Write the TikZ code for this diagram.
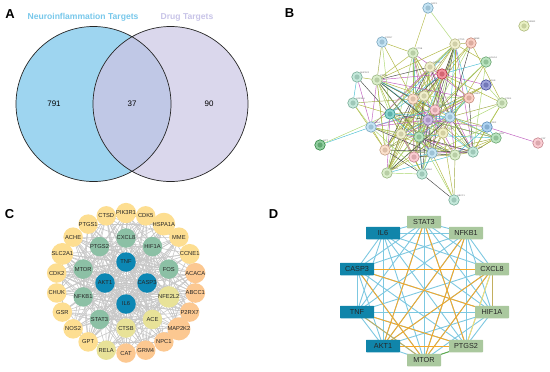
\documentclass[tikz,border=0pt]{standalone}
\usepackage{fontspec}
\setmainfont{Liberation Sans}
\usetikzlibrary{calc}
\pgfdeclarelayer{bg}\pgfdeclarelayer{edges}
\pgfsetlayers{bg,edges,main}
\definecolor{vennL}{RGB}{158,213,240}
\definecolor{vennR}{RGB}{218,215,236}
\definecolor{vennI}{RGB}{192,200,230}
\definecolor{titleL}{RGB}{120,200,235}
\definecolor{titleR}{RGB}{200,196,232}
\definecolor{cy}{RGB}{253,222,145}
\definecolor{co}{RGB}{252,200,145}
\definecolor{ck}{RGB}{232,226,152}
\definecolor{cg}{RGB}{140,192,165}
\definecolor{cb}{RGB}{12,135,180}
\definecolor{cedgecol}{RGB}{200,200,200}
\definecolor{dg}{RGB}{170,200,158}
\definecolor{db}{RGB}{16,133,170}
\definecolor{dblue}{RGB}{125,200,225}
\definecolor{dorange}{RGB}{245,168,40}
\definecolor{dyellow}{RGB}{250,222,110}
\definecolor{dkhaki}{RGB}{195,175,95}
\definecolor{dgreen}{RGB}{100,170,60}
\definecolor{bc1}{RGB}{175,182,60}
\definecolor{bc2}{RGB}{70,70,70}
\definecolor{bc3}{RGB}{190,90,190}
\definecolor{bc4}{RGB}{70,190,210}
\definecolor{bc5}{RGB}{170,215,110}
\definecolor{bc6}{RGB}{160,170,70}
\definecolor{blb}{RGB}{150,205,235}
\definecolor{byg}{RGB}{215,230,150}
\definecolor{blg}{RGB}{190,225,160}
\definecolor{bly}{RGB}{228,226,165}
\definecolor{bsa}{RGB}{245,170,150}
\definecolor{bgr}{RGB}{130,205,140}
\definecolor{bred}{RGB}{232,60,80}
\definecolor{bind}{RGB}{80,90,190}
\definecolor{bmi}{RGB}{150,215,190}
\definecolor{bpe}{RGB}{247,200,165}
\definecolor{bpk}{RGB}{245,165,175}
\definecolor{bte}{RGB}{50,180,170}
\definecolor{bpu}{RGB}{170,140,210}
\definecolor{bbl}{RGB}{110,175,230}
\definecolor{bdg}{RGB}{55,165,80}
\tikzset{
  plabel/.style={font=\fontsize{13}{13}\selectfont\bfseries, inner sep=0pt},
  vnum/.style={font=\fontsize{8}{9}\selectfont, inner sep=0pt},
  vtitle/.style={font=\fontsize{8.6}{9}\selectfont\bfseries, inner sep=0pt},
  cnode/.style={circle, minimum size=19.5bp, inner sep=0pt, text=black!85,
    font=\fontsize{5.8}{6}\selectfont},
  cedge/.style={draw=cedgecol, line width=0.6pt},
  bnode/.style={circle, minimum size=10.5bp, inner sep=0pt, line width=0.6pt},
  blab/.style={font=\fontsize{2.2}{2.4}\selectfont, text=black!60, inner sep=0.3pt, anchor=south west},
  bedge/.style={line width=0.45pt},
  dbox/.style={rectangle, minimum width=34bp, minimum height=12.5bp, inner sep=0pt,
    rounded corners=0.6pt, text=black!85, font=\fontsize{7.3}{8}\selectfont},
  dedge/.style={line width=0.9pt},
}
\begin{document}
\begin{tikzpicture}[x=1bp,y=-1bp]
\begin{pgfonlayer}{bg}
\fill[white] (0,0) rectangle (550,371);
\end{pgfonlayer}
\useasboundingbox (0,0) rectangle (550,371);

% ---------------- Panel A : Venn ----------------
\node[plabel] (labA) at (10,14) {A};
\coordinate (vL) at (93.5,104);
\coordinate (vR) at (170.5,104);
\fill[vennL] (vL) circle[radius=77.5bp];
\fill[vennR] (vR) circle[radius=77.5bp];
\begin{scope}
  \clip (vL) circle[radius=77.5bp];
  \fill[vennI] (vR) circle[radius=77.5bp];
\end{scope}
\draw[line width=0.7pt, black!85] (vL) circle[radius=77.5bp] (vR) circle[radius=77.5bp];
\node[vtitle, text=titleL] (tL) at (83,17) {Neuroinflammation Targets};
\node[vtitle, text=titleR] (tR) at (187,17) {Drug Targets};
\node[vnum] (n791) at (54,104) {791};
\node[vnum] (n37) at (132,104) {37};
\node[vnum] (n90) at (209,104) {90};

% ---------------- Panel B : STRING network ----------------
\node[plabel] (labB) at (289.5,13) {B};
\foreach \i/\x/\y/\col/\lab in {
 1/428/8/blb/NPC1, 2/524/26/byg/CHRM2, 3/382/42/blb/P2RX7, 4/413/53/blg/CTSB,
 5/455/44/bly/CTSD, 6/471/43/bsa/MME, 7/486/62/bgr/ACACA, 8/430/67/bly/NFE2L2,
 9/442/74/bred/PTGS2, 10/486/85/bind/ACHE, 11/357/77/bmi/MAP2K2, 12/377/80/blg/PTGS1,
 13/353/103/bmi/HSPA1A, 14/413/99/bpe/HIF1A, 15/424/96/bly/FOS, 16/469/98/bsa/CCNE1,
 17/502/103/blg/CDK5, 18/435/110/bpk/CASP3, 19/390/114/bte/STAT3, 20/450/117/blb/IL6,
 21/428/120/bpu/AKT1, 22/371/127/blb/RELA, 23/487/127/bbl/CDK2, 24/401/134/bly/TNF,
 25/419/137/bgr/MTOR, 26/443/133/ck/CXCL8, 27/496/138/bgr/GSR, 28/538/143/bpk/CAT,
 29/320/145/bdg/GPT, 30/385/150/bpe/NOS2, 31/432/153/blb/NFKB1, 32/455/155/blg/ACE,
 33/473/152/bmi/CHUK, 34/414/157/bpk/SLC2A1, 35/387/173/blg/PIK3R1, 36/422/174/bmi/GRM4,
 37/454/200/bmi/ABCC1}{
  \node[bnode, draw=\col!80!black, fill=\col!55!white] (b\i) at (\x,\y) {};
  \fill[\col!75!black, opacity=0.45] (b\i.center) circle[radius=2.6bp];
  \node[blab] (bl\i) at ($(b\i.north east)+(-1,1)$) {\lab};
}
\pgfmathsetseed{11}
\begin{pgfonlayer}{edges}
\foreach \i [count=\a] in {4,5,8,9,12,14,15,16,18,19,20,21,22,24,25,26,27,30,31,32,33,34,35,36}{
  \foreach \j [count=\b] in {4,5,8,9,12,14,15,16,18,19,20,21,22,24,25,26,27,30,31,32,33,34,35,36}{
    \ifnum\a<\b
      \pgfmathsetmacro\r{rnd}
      \ifdim\r pt<0.55pt
        \pgfmathrandominteger{\cc}{1}{6}
        \draw[bedge, draw=bc\cc] (b\i) -- (b\j);
      \fi
    \fi
  }
}
\foreach \i/\j/\cc in {1/4/1,1/5/5,3/4/1,3/12/6,3/14/1,3/19/5,11/12/1,11/13/4,11/19/2,11/22/3,
  13/19/1,13/22/5,13/14/6,13/30/1,29/22/4,29/19/5,28/23/3,37/31/1,37/32/6,37/26/1,37/25/5,37/36/2,
  7/5/1,7/9/4,7/21/6,7/18/5,7/31/1,7/33/5,10/9/3,10/21/1,10/18/6,10/17/5,10/24/1,
  17/6/1,17/23/5,17/20/6,17/9/1,17/26/5,17/33/1,6/5/6,6/9/1,6/20/2,6/18/5,6/24/1,
  23/27/4,23/33/1,23/21/3,23/20/6,23/32/4,23/31/5,27/20/1,27/33/6,27/21/5,12/21/2,12/25/6,12/30/1}{
  \draw[bedge, draw=bc\cc] (b\i) -- (b\j);
}
\end{pgfonlayer}

% ---------------- Panel C : circular network ----------------
\node[plabel] (labC) at (9.5,214) {C};
\coordinate (cC) at (126,283);
\foreach \n/\col [count=\i] in {TNF/cb, CASP3/cb, IL6/cb, AKT1/cb}{
  \node[cnode, fill=\col] (c\i) at ($(cC)+({90-(\i-1)*90}:21bp)$) {\n};
}
\foreach \n/\col [count=\i from 5] in {CXCL8/cg, HIF1A/cg, FOS/cg, NFE2L2/ck, ACE/ck,
  CTSB/ck, STAT3/cg, NFKB1/cg, MTOR/cg, PTGS2/cg}{
  \node[cnode, fill=\col] (c\i) at ($(cC)+({90-(\i-5)*36}:45bp)$) {\n};
}
\foreach \n/\col [count=\i from 15] in {PIK3R1/cy, CDK5/cy, HSPA1A/cy, MME/cy, CCNE1/cy,
  ACACA/co, ABCC1/co, P2RX7/co, MAP2K2/co, NPC1/co, GRM4/co, CAT/co, RELA/ck, GPT/cy,
  NOS2/cy, GSR/cy, CHUK/cy, CDK2/cy, SLC2A1/cy, ACHE/cy, PTGS1/cy, CTSD/cy}{
  \node[cnode, fill=\col] (c\i) at ($(cC)+({90-(\i-15)*360/22}:70bp)$) {\n};
}
\pgfmathsetseed{5}
\begin{pgfonlayer}{edges}
\foreach \i in {1,...,35}{
  \pgfmathtruncatemacro\js{\i+1}
  \foreach \j in {\js,...,36}{
    \pgfmathsetmacro\p{\i<5 ? 0.92 : (\i<15 ? 0.55 : 0.16)}
    \pgfmathsetmacro\r{rnd}
    \ifdim\r pt<\p pt
      \draw[cedge] (c\i.center) -- (c\j.center);
    \fi
  }
}
\end{pgfonlayer}

% ---------------- Panel D : core network ----------------
\node[plabel] (labD) at (273.5,214) {D};
\foreach \n/\x/\y/\col in {STAT3/424/222/dg, NFKB1/466/233/dg, CXCL8/492/269/dg,
  HIF1A/492/312/dg, PTGS2/466/346/dg, MTOR/424/360/dg, AKT1/383/346/db,
  TNF/357/312/db, CASP3/357/269/db, IL6/383/233/db}{
  \node[dbox, fill=\col] (d\n) at (\x,\y) {\n};
}
\begin{pgfonlayer}{edges}
\foreach \a [count=\i] in {STAT3,NFKB1,CXCL8,HIF1A,PTGS2,MTOR,AKT1,TNF,CASP3,IL6}{
  \foreach \b [count=\j] in {STAT3,NFKB1,CXCL8,HIF1A,PTGS2,MTOR,AKT1,TNF,CASP3,IL6}{
    \ifnum\i<\j
      \draw[dedge, draw=dblue] (d\a.center) -- (d\b.center);
    \fi
  }
}
\foreach \a/\b in {STAT3/AKT1, STAT3/PTGS2, NFKB1/MTOR, NFKB1/AKT1, CASP3/CXCL8,
  CASP3/HIF1A, CASP3/MTOR, TNF/PTGS2, AKT1/CXCL8, AKT1/PTGS2, CXCL8/MTOR}{
  \draw[dedge, draw=dorange] (d\a.center) -- (d\b.center);
}
\draw[dedge, draw=dyellow] (dCXCL8.center) -- (dPTGS2.center);
\draw[dedge, draw=dkhaki] (dCXCL8.center) -- (dHIF1A.center);
\draw[dedge, draw=dkhaki] (dTNF.center) -- (dMTOR.center);
\draw[dedge, draw=dgreen] (dPTGS2.center) -- (dMTOR.center);
\end{pgfonlayer}
\end{tikzpicture}
\end{document}
